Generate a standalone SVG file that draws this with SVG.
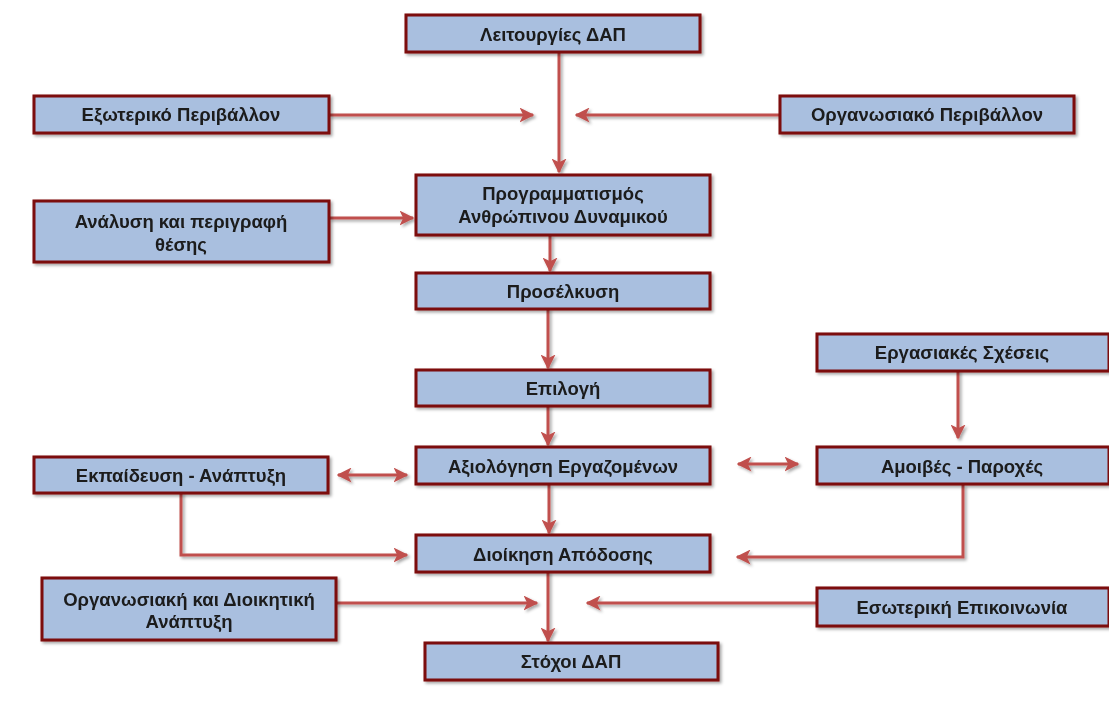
<svg xmlns="http://www.w3.org/2000/svg" width="1109" height="702" viewBox="0 0 1109 702">
<style>
.box{fill:#a9bfdf;stroke:#7b0a0a;stroke-width:3}
.t{font-family:"Liberation Sans",Arial,sans-serif;font-weight:bold;font-size:18.5px;fill:#1a1a1a;text-anchor:middle;dominant-baseline:central}
.c{fill:none;stroke:#c0504d;stroke-width:3}
</style>
<defs>
<filter id="sh" x="-10%" y="-20%" width="130%" height="160%">
<feDropShadow dx="2" dy="2" stdDeviation="1.5" flood-color="#000" flood-opacity="0.35"/>
</filter>
<marker id="ah" viewBox="0 0 10 10" refX="9" refY="5" markerWidth="5" markerHeight="5" orient="auto-start-reverse" markerUnits="strokeWidth">
<path d="M0,0 L10,5 L0,10 L2.5,5 Z" fill="#c0504d"/>
</marker>
</defs>
<g id="connectors" filter="url(#sh)">
<path class="c" d="M559,52 V172" marker-end="url(#ah)"/>
<path class="c" d="M329,115 H533" marker-end="url(#ah)"/>
<path class="c" d="M780,115 H576" marker-end="url(#ah)"/>
<path class="c" d="M329,218 H413" marker-end="url(#ah)"/>
<path class="c" d="M550,235 V271" marker-end="url(#ah)"/>
<path class="c" d="M548,308 V368" marker-end="url(#ah)"/>
<path class="c" d="M548,405 V445" marker-end="url(#ah)"/>
<path class="c" d="M958,370 V438" marker-end="url(#ah)"/>
<path class="c" d="M338,475 H407" marker-start="url(#ah)" marker-end="url(#ah)"/>
<path class="c" d="M738,464 H798" marker-start="url(#ah)" marker-end="url(#ah)"/>
<path class="c" d="M549,485 V533" marker-end="url(#ah)"/>
<path class="c" d="M181,492 V555 H407" marker-end="url(#ah)"/>
<path class="c" d="M963,485 V557 H737" marker-end="url(#ah)"/>
<path class="c" d="M336,603 H537" marker-end="url(#ah)"/>
<path class="c" d="M816,603 H587" marker-end="url(#ah)"/>
<path class="c" d="M548,571 V641" marker-end="url(#ah)"/>
</g>
<g id="n1" filter="url(#sh)"><rect class="box" x="406" y="15" width="294" height="37"/><text class="t" x="553" y="34">Λειτουργίες ΔΑΠ</text></g>
<g id="n2" filter="url(#sh)"><rect class="box" x="34" y="96" width="295" height="37"/><text class="t" x="181" y="114">Εξωτερικό Περιβάλλον</text></g>
<g id="n3" filter="url(#sh)"><rect class="box" x="780" y="96" width="294" height="37"/><text class="t" x="927" y="114">Οργανωσιακό Περιβάλλον</text></g>
<g id="n4" filter="url(#sh)"><rect class="box" x="416" y="175" width="294" height="60"/><text class="t" x="563" y="193">Προγραμματισμός</text><text class="t" x="563" y="216">Ανθρώπινου Δυναμικού</text></g>
<g id="n5" filter="url(#sh)"><rect class="box" x="34" y="201" width="295" height="61"/><text class="t" x="181" y="221">Ανάλυση και περιγραφή</text><text class="t" x="181" y="244">θέσης</text></g>
<g id="n6" filter="url(#sh)"><rect class="box" x="416" y="273" width="294" height="36"/><text class="t" x="563" y="291">Προσέλκυση</text></g>
<g id="n7" filter="url(#sh)"><rect class="box" x="416" y="370" width="294" height="36"/><text class="t" x="563" y="388">Επιλογή</text></g>
<g id="n8" filter="url(#sh)"><rect class="box" x="817" y="334" width="292" height="37"/><text class="t" x="962" y="352">Εργασιακές Σχέσεις</text></g>
<g id="n9" filter="url(#sh)"><rect class="box" x="416" y="447" width="294" height="37"/><text class="t" x="563" y="466">Αξιολόγηση Εργαζομένων</text></g>
<g id="n10" filter="url(#sh)"><rect class="box" x="34" y="457" width="294" height="36"/><text class="t" x="181" y="475">Εκπαίδευση - Ανάπτυξη</text></g>
<g id="n11" filter="url(#sh)"><rect class="box" x="817" y="447" width="292" height="37"/><text class="t" x="962" y="466">Αμοιβές - Παροχές</text></g>
<g id="n12" filter="url(#sh)"><rect class="box" x="416" y="535" width="294" height="37"/><text class="t" x="563" y="554">Διοίκηση Απόδοσης</text></g>
<g id="n13" filter="url(#sh)"><rect class="box" x="42" y="578" width="294" height="62"/><text class="t" x="189" y="599">Οργανωσιακή και Διοικητική</text><text class="t" x="189" y="621">Ανάπτυξη</text></g>
<g id="n14" filter="url(#sh)"><rect class="box" x="817" y="588" width="292" height="38"/><text class="t" x="962" y="607">Εσωτερική Επικοινωνία</text></g>
<g id="n15" filter="url(#sh)"><rect class="box" x="425" y="643" width="293" height="37"/><text class="t" x="571" y="661">Στόχοι ΔΑΠ</text></g>
</svg>
